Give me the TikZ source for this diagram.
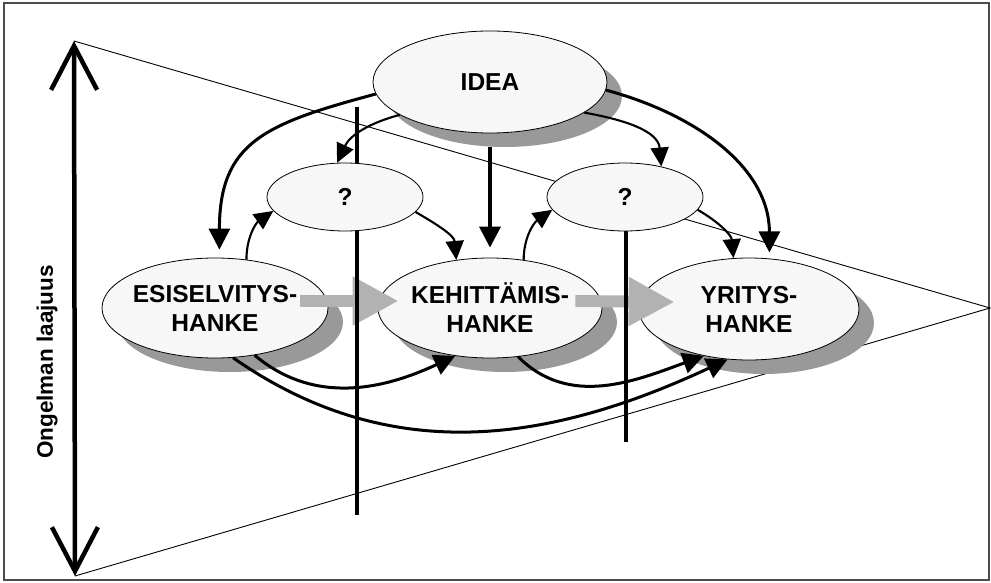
\documentclass[tikz,border=0pt]{standalone}
\usepackage{fontspec}
\setmainfont{Liberation Sans}
\usetikzlibrary{arrows.meta,shapes.geometric,shadows}

\begin{document}
\begin{tikzpicture}[
      x=1pt, y=-1pt,
      blob/.style={ellipse, draw, line width=0.8pt, fill=black!3, minimum width=226pt, minimum height=100pt,
        inner xsep=-12pt, inner ysep=0pt, align=center, font=\fontsize{24.5}{29}\selectfont\bfseries,
        drop shadow={shadow xshift=15pt, shadow yshift=-14pt, fill=black!40, opacity=1}},
      qblob/.style={ellipse, draw, line width=0.8pt, fill=black!3, minimum width=156pt, minimum height=68pt,
        inner sep=0pt, font=\fontsize{24.5}{29}\selectfont\bfseries},
      arr/.style={-{Triangle[length=21pt, width=21pt]}, line width=3pt},
      thinarr/.style={-{Triangle[length=19pt, width=18pt]}, line width=2.1pt},
      flow/.style={-{Triangle[length=46pt, width=46pt]}, line width=12pt, draw=black!30},
      divider/.style={line width=4pt},
      barb/.style={line width=4.5pt, {Straight Barb[length=44pt, width=46pt]}-{Straight Barb[length=44pt, width=46pt]}},
    ]
    \useasboundingbox (0,0) rectangle (991,583);
    \draw[black!70, line width=1.2pt] (4,3) rectangle (989,580);

    % triangle and the scale on the left
    \coordinate (top) at (74,41);
    \coordinate (bot) at (75,576);
    \coordinate (apex) at (990,308);
    \draw[line width=0.9pt] (top) -- (apex) -- (bot);
    \draw[barb] (top) -- (bot);
    \node[rotate=90, font=\fontsize{22.5}{27}\selectfont\bfseries] (extent) at (47,362) {Ongelman laajuus};

    % project types
    \node[blob, minimum width=234pt, minimum height=102pt] (idea) at (490,82) {IDEA};
    \node[blob] (esis) at (215,308) {ESISELVITYS-\\HANKE};
    \node[blob, minimum width=224pt] (keh) at (490,308) {KEHITTÄMIS-\\HANKE};
    \node[blob, minimum width=220pt, minimum height=102pt] (yr) at (749,309) {YRITYS-\\HANKE};

    \draw[flow] ([xshift=-28pt, yshift=7pt]esis.east) -- ([xshift=21pt, yshift=7pt]keh.west);
    \draw[flow] ([xshift=-27pt, yshift=7pt]keh.east) -- ([xshift=36pt, yshift=7pt]yr.west);

    % phase borders
    \coordinate (d1a) at (357,107);
    \coordinate (d1b) at (357,515);
    \coordinate (d2a) at (626,200);
    \coordinate (d2b) at (626,442);
    \draw[divider] (d1a) -- (d1b);
    \draw[divider] (d2a) -- (d2b);

    \node[qblob] (lq) at (345,197) {?};
    \node[qblob] (rq) at (625,197) {?};

    % routes from the idea
    \draw[arr, shorten >=8pt] (idea.186) to[out=195, in=90, looseness=1.3] (esis.85);
    \draw[thinarr] (idea.200) to[out=195, in=65] (lq.103);
    \draw[arr, line width=3.5pt, shorten >=10pt] ([yshift=-14pt]idea.south) -- (keh.north);
    \draw[thinarr] (idea.342) to[out=-10, in=95] (rq.40);
    \draw[arr, shorten >=6pt] (idea.356) to[out=-15, in=90] (yr.68);

    % through the open questions
    \draw[thinarr] (esis.57) to[out=90, in=215] (lq.191);
    \draw[thinarr] (lq.-12) to[out=-30, in=95] (keh.125);
    \draw[thinarr] (keh.55) to[out=90, in=215] (rq.190);
    \draw[thinarr] (rq.-10) to[out=-30, in=95] (yr.107);

    % continuation below
    \draw[arr] (esis.-50) to[out=-40, in=205] (keh.234);
    \draw[arr] (esis.-70) to[out=-35, in=205] (yr.247);
    \draw[arr] (keh.-60) to[out=-45, in=200] (yr.226);
  \end{tikzpicture}
\end{document}
